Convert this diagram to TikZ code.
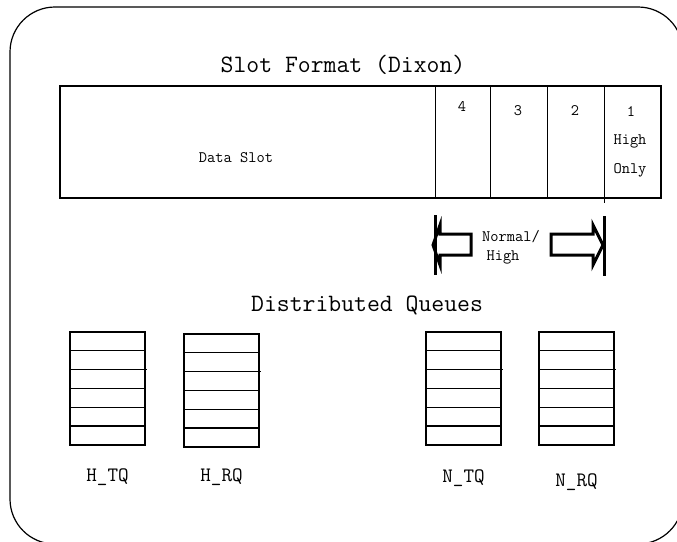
\documentclass[tikz,border=0pt]{standalone}
\usepackage{fontspec}
\usetikzlibrary{positioning}
\tikzset{
  bigtxt/.style={font=\ttfamily\fontsize{25}{29}\selectfont},
  midtxt/.style={font=\ttfamily\fontsize{20.5}{24}\selectfont},
  smalltxt/.style={font=\ttfamily\fontsize{16}{19}\selectfont},
  qline/.style={line width=1.2pt},
  hollow/.style={line width=3pt, fill=white, line join=miter},
}

\begin{document}
\begin{tikzpicture}[x=1pt, y=-1pt]
  \clip (0,0) rectangle (677,541);
  % outer frame
  \draw[line width=1.2pt, rounded corners=45pt] (10,7) rectangle (683,544);

  % slot format
  \node[bigtxt] (title) at (343,65) {Slot Format (Dixon)};
  \draw[line width=2.2pt] (60,86) rectangle (661,198);
  \foreach \x in {435,490,547}
  {
    \draw[line width=1pt] (\x,86) -- (\x,198);
  }
  \draw[line width=1pt] (604,86) -- (604,203);
  \node[smalltxt] (dataslot) at (236,158) {Data Slot};
  \node[smalltxt] (s4) at (462,106) {4};
  \node[smalltxt] (s3) at (518,111) {3};
  \node[smalltxt] (s2) at (575,111) {2};
  \node[smalltxt] (s1) at (631,112) {1};
  \node[smalltxt] (high) at (630,141) {High};
  \node[smalltxt] (only) at (630,170) {Only};

  % normal/high range
  \draw[hollow] (471,234) -- (440,234) -- (440,225) -- (433,245)
    -- (440,265) -- (440,255) -- (471,255) -- cycle;
  \draw[hollow] (551,234) -- (593,234) -- (593,225) -- (603,245)
    -- (593,265) -- (593,255) -- (551,255) -- cycle;
  \draw[line width=3pt] (435,215) -- (435,275);
  \draw[line width=3pt] (604,216) -- (604,276);
  \node[smalltxt] (normal) at (511,237) {Normal/};
  \node[smalltxt] (nhigh) at (503,257) {High};

  % distributed queues
  \node[bigtxt] (dq) at (367,305) {Distributed Queues};
  \foreach \name/\x/\y/\lab/\ly in {htq/70/332/H\_TQ/477, hrq/184/334/H\_RQ/477,
                                   ntq/426/332/N\_TQ/478, nrq/539/332/N\_RQ/482}
  {
    \draw[qline] (\x,\y) rectangle ++(75,113);
    \foreach \k in {1,3,4,5}
      \draw[qline] (\x,\y+\k*18.8) -- ++(75,0);
    \draw[qline] (\x,\y+37.6) -- ++(77,0);
    \node[midtxt] (\name) at (\x+37.5,\ly) {\lab};
  }
\end{tikzpicture}
\end{document}
